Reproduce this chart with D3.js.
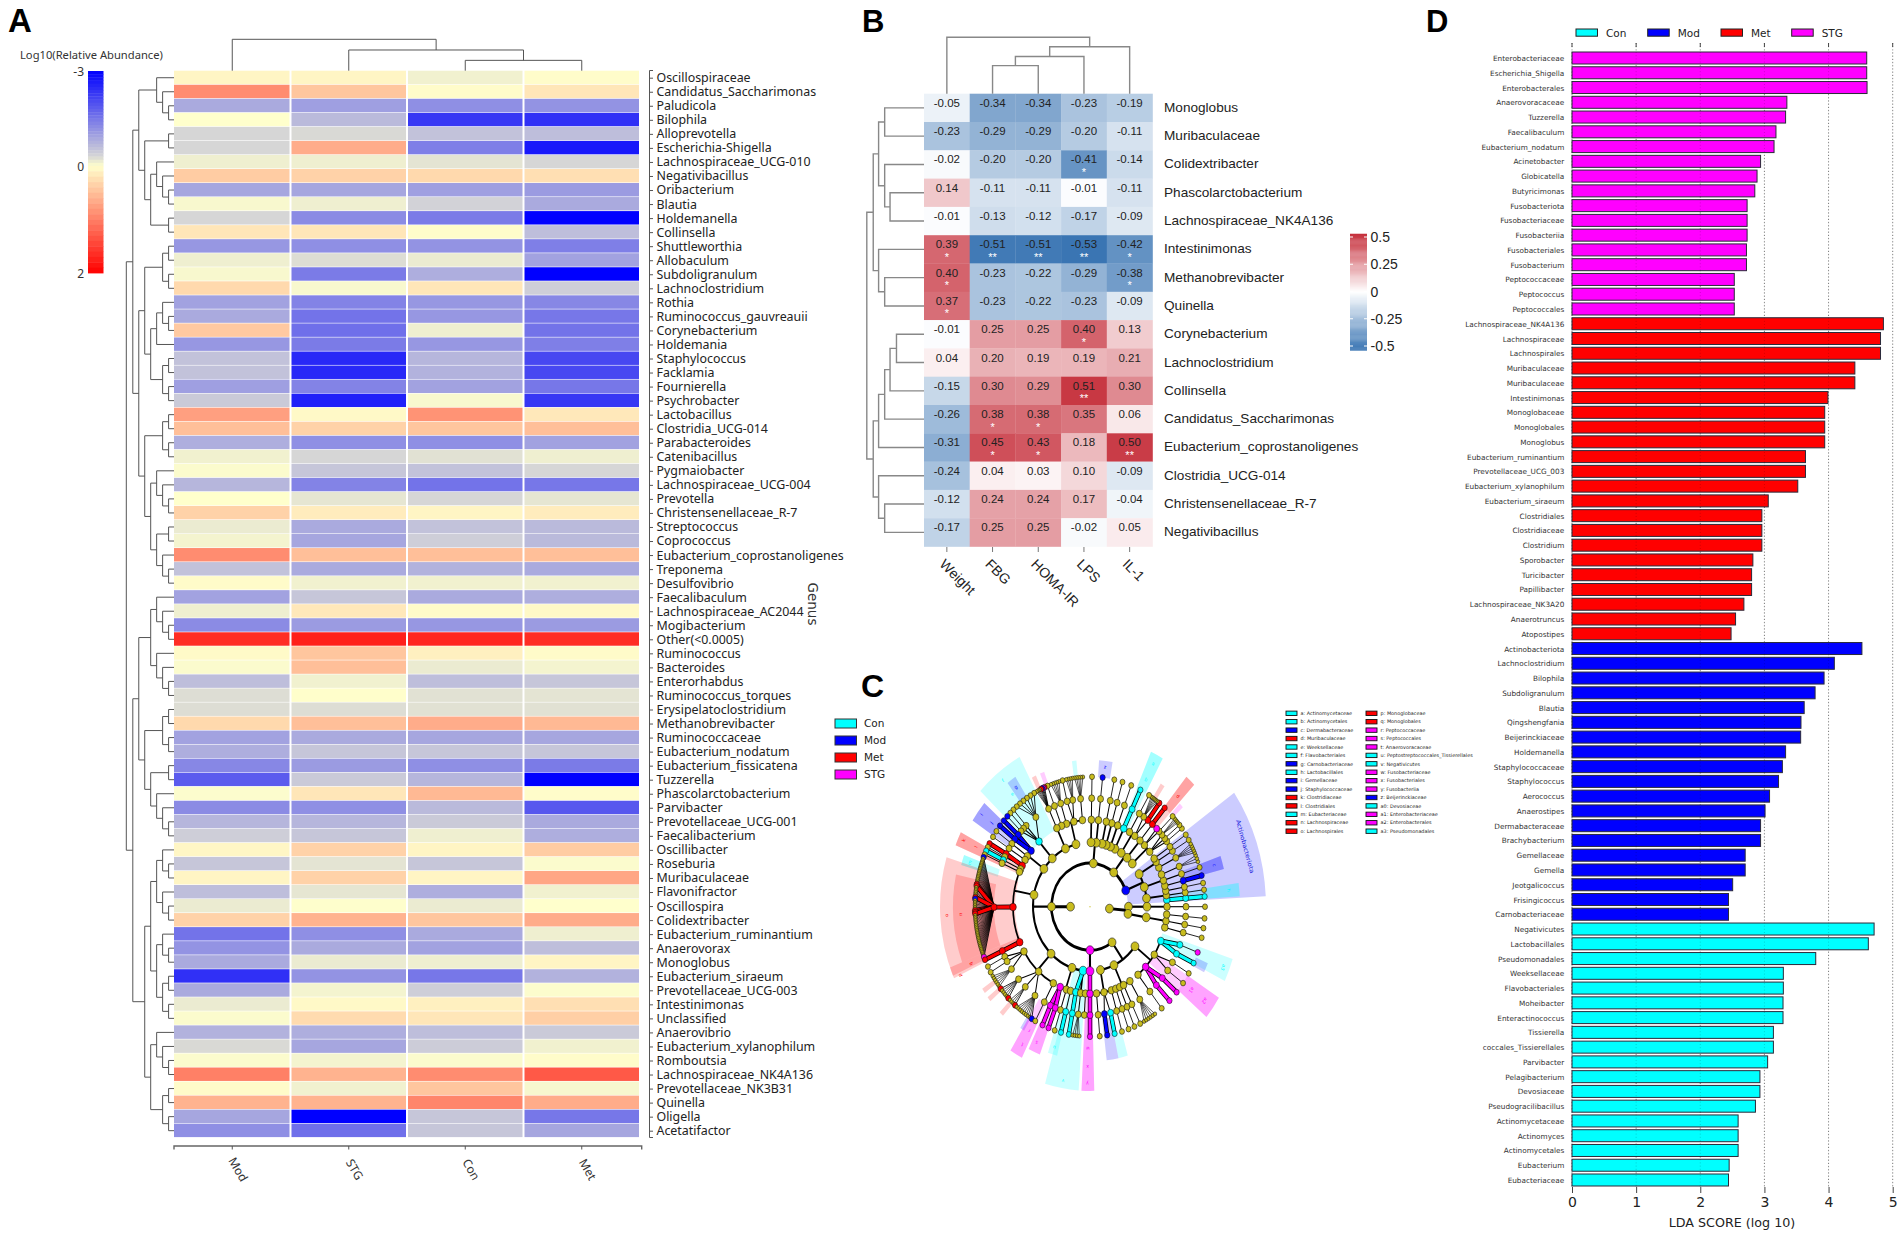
<!DOCTYPE html>
<html><head><meta charset="utf-8">
<script src="https://cdn.jsdelivr.net/npm/d3@7/dist/d3.min.js"></script>
<style>html,body{margin:0;background:#fff}svg{display:block}text{fill:#222}</style>
</head><body><svg id="c" width="1902" height="1235"></svg>
<script>
// ---------- Panel A data ----------
const aGroups=["Mod","STG","Con","Met"];
const aGenera=["Oscillospiraceae","Candidatus_Saccharimonas","Paludicola","Bilophila","Alloprevotella","Escherichia-Shigella","Lachnospiraceae_UCG-010","Negativibacillus","Oribacterium","Blautia","Holdemanella","Collinsella","Shuttleworthia","Allobaculum","Subdoligranulum","Lachnoclostridium","Rothia","Ruminococcus_gauvreauii","Corynebacterium","Holdemania","Staphylococcus","Facklamia","Fournierella","Psychrobacter","Lactobacillus","Clostridia_UCG-014","Parabacteroides","Catenibacillus","Pygmaiobacter","Lachnospiraceae_UCG-004","Prevotella","Christensenellaceae_R-7","Streptococcus","Coprococcus","Eubacterium_coprostanoligenes","Treponema","Desulfovibrio","Faecalibaculum","Lachnospiraceae_AC2044","Mogibacterium","Other(<0.0005)","Ruminococcus","Bacteroides","Enterorhabdus","Ruminococcus_torques","Erysipelatoclostridium","Methanobrevibacter","Ruminococcaceae","Eubacterium_nodatum","Eubacterium_fissicatena","Tuzzerella","Phascolarctobacterium","Parvibacter","Prevotellaceae_UCG-001","Faecalibacterium","Oscillibacter","Roseburia","Muribaculaceae","Flavonifractor","Oscillospira","Colidextribacter","Eubacterium_ruminantium","Anaerovorax","Monoglobus","Eubacterium_siraeum","Prevotellaceae_UCG-003","Intestinimonas","Unclassified","Anaerovibrio","Eubacterium_xylanophilum","Romboutsia","Lachnospiraceae_NK4A136","Prevotellaceae_NK3B31","Quinella","Oligella","Acetatifactor"];
const aValues=[[.08,.08,-.1,.02],[.9,.45,.02,.2],[-.85,-1,-1.2,-1.15],[0,-.65,-2.3,-2.4],[-.3,-.28,-.55,-.6],[-.3,.65,-1.4,-2.7],[-.12,-.12,-.2,-.3],[.4,.35,.3,.25],[-.9,-.9,-1,-1.05],[-.05,-.12,-.35,-.85],[-.3,-1.25,-1.45,-3],[.2,.2,.02,-.6],[-1.1,-1.2,-1.15,-1.4],[-.12,-.25,-.15,-.95],[-.05,-1.45,-.8,-3],[.3,-.05,.2,-.4],[-.95,-1.35,-1.1,-1.3],[-.85,-1.55,-1.1,-1.5],[.42,-1.6,-.12,-1.55],[-1.1,-1.45,-1.1,-1.4],[-.55,-2.5,-.7,-2.1],[-.55,-2.5,-.75,-2.1],[-1,-1.35,-.95,-1.5],[-.45,-2.6,-.05,-2.3],[.75,.05,.85,.18],[.5,.35,.45,.5],[-.8,-1.2,-1.2,-.95],[-.1,-.3,-.22,-.12],[-.03,-.5,-.55,-.3],[-.7,-1.35,-1.55,-1.5],[0,-.18,-.3,-.18],[.35,.15,.08,.15],[-.15,-.85,-.55,-.65],[-.08,-.9,-.4,-.65],[.9,.5,.5,.5],[-.55,-.85,-.75,-.85],[.03,-.1,-.1,-.1],[-.95,-.5,-.85,-.8],[-.12,.18,.03,.05],[-1.25,-1.05,-1.1,-1.05],[1.65,1.75,1.7,1.65],[.04,.45,.12,.03],[-.03,.5,-.15,-.08],[-.6,-.1,-.6,-.5],[-.25,.01,-.22,-.2],[-.25,-.25,-.22,-.22],[.3,.5,.65,.55],[-.95,-.85,-.9,-.9],[-.8,-.5,-.5,-.5],[-1.3,-1.05,-1.2,-1.45],[-1.85,-.45,-.7,-3],[-.02,.2,.55,.02],[-1.25,-1.2,-.65,-1.9],[-.7,-.7,-.45,-.85],[-.4,-.5,-.12,-.8],[.07,.35,.08,.4],[-.5,-.2,-.5,-.03],[.08,.35,.08,.7],[-.6,-.18,-.8,-.1],[-.15,-.01,-.15,0],[.35,.6,.45,.65],[-1.55,-1.2,-.85,-.12],[-1.15,-.85,-.95,-.6],[-.85,-.15,-.12,.08],[-2.4,-1.15,-1.5,-.75],[-.85,-.08,-.4,-.02],[-.15,.05,.12,.25],[-.03,.28,.2,.38],[-.75,-.8,-.6,-.45],[-.28,-.9,-.42,-.1],[-.03,-.08,-.03,.02],[1,.6,.9,1.3],[.03,-.1,.45,-.06],[.6,.6,.95,.65],[-.9,-3,-.5,-1.5],[-1.2,-1.6,-.5,-.9]];
const aLegendTicks=[-3,0,2];
// merge heights [h,left,right]; 0 is a leaf, read top to bottom
const aRowTree=[88,
 [76,[65,[32,0,[21,0,[10,0,0]]],[54,[10,0,0],[43,[32,0,[21,0,[10,0,0]]],[10,0,0]]]],
     [65,[54,[21,[10,0,0],[10,0,0]],[43,[32,[21,0,[10,0,0]],0],[21,[10,0,0],[10,0,0]]]],
         [54,[21,[10,0,0],[10,0,0]],[43,[32,0,[21,0,[10,0,0]]],[32,[10,0,0],[21,0,[10,0,0]]]]]]],
 [76,[65,[43,[32,0,[21,0,[10,0,0]]],[32,0,[21,0,[10,0,0]]]],[54,[21,[10,0,0],[10,0,0]],[43,[10,0,0],[32,0,[21,0,[10,0,0]]]]]],
     [54,[43,[32,[21,0,[10,0,0]],[21,0,[10,0,0]]],[32,[21,0,[10,0,0]],[21,[10,0,0],[10,0,0]]]],[43,[32,0,[21,0,[10,0,0]]],[21,[10,0,0],[10,0,0]]]]]];
const aColTree=[94,0,[62,0,[31,0,0]]];

// ---------- Panel B data ----------
const bCols=["Weight","FBG","HOMA-IR","LPS","IL-1"];
const bRows=["Monoglobus","Muribaculaceae","Colidextribacter","Phascolarctobacterium","Lachnospiraceae_NK4A136","Intestinimonas","Methanobrevibacter","Quinella","Corynebacterium","Lachnoclostridium","Collinsella","Candidatus_Saccharimonas","Eubacterium_coprostanoligenes","Clostridia_UCG-014","Christensenellaceae_R-7","Negativibacillus"];
const bValues=[[-.05,-.34,-.34,-.23,-.19],[-.23,-.29,-.29,-.20,-.11],[-.02,-.20,-.20,-.41,-.14],[.14,-.11,-.11,-.01,-.11],[-.01,-.13,-.12,-.17,-.09],[.39,-.51,-.51,-.53,-.42],[.40,-.23,-.22,-.29,-.38],[.37,-.23,-.22,-.23,-.09],[-.01,.25,.25,.40,.13],[.04,.20,.19,.19,.21],[-.15,.30,.29,.51,.30],[-.26,.38,.38,.35,.06],[-.31,.45,.43,.18,.50],[-.24,.04,.03,.10,-.09],[-.12,.24,.24,.17,-.04],[-.17,.25,.25,-.02,.05]];
const bStars=[[0,0,0,0,0],[0,0,0,0,0],[0,0,0,1,0],[0,0,0,0,0],[0,0,0,0,0],[1,2,2,2,1],[1,0,0,0,1],[1,0,0,0,0],[0,0,0,1,0],[0,0,0,0,0],[0,0,0,2,0],[0,1,1,0,0],[0,1,1,0,2],[0,0,0,0,0],[0,0,0,0,0],[0,0,0,0,0]];
const bLegendTicks=[.5,.25,0,-.25,-.5];
const bRowTree=[160,[142,[127,[110,0,0],[110,0,[95,0,0]]],[127,0,[110,0,0]]],[142,[127,[110,[95,[77,0,0],0],0],0],[127,0,[110,0,0]]]];
const bColTree=[143,0,[119,[94,[71,0,0],0],0]];

// ---------- Panel C data ----------
// class spans [phylum, from deg, to deg, clade]; degrees counter-clockwise from east
// y plain, c Con, b Mod, r Met, m STG; a digit n is a fan of n plain leaves
const cPhyla={A0:["y","K2"],A1:["y","K2"],Act:["b","K1"],T1:["y","K1"],T2:["y","K1"],Fir:["y","K1"],Fus:["m","K1"],P2:["y","K1"]};
const cKingdomAngle={K1:180,K2:-5};
const cPhylumAngle={Fir:180,Fus:270,T2:85,P2:305,Act:22,T1:52};
const cSpans=[
["A0",0,0,"y(y(y(y)))"],
["A1",-16,-3,"y(y(y(y)),y(y(y)),y(y(y)))"],
["Act",3,12,"y(c(c(c)),y(y(y)),y(y(y)))"],
["Act",12,24,"y(y(b(b)),y(y(y)),y(y(3)))"],
["Act",24,35,"y(y(y(5)),y(y(y)),y(y(y)))"],
["T1",36,47,"y(y(y(y),y(y),y(4)),y(y(y),m))"],
["T1",47,52,"y(y(r(r)))"],
["T1",52,60,"y(y(r(r),y(6)),y(y(y)))"],
["T1",62,66,"y(c(c(c)))"],
["T2",69,69,"y(y(y(y)))"],["T2",73.6,73.6,"y(y(y(y)))"],["T2",77.8,77.8,"y(y(y(y)))"],["T2",83.7,83.7,"y(y(y(b)))"],["T2",89,89,"y(y(y(y)))"],
["Fir",93,113,"y(y(y(5)),y(y(4),y(y)),y(y(5)),y(y(y)))"],
["Fir",113,118,"y(y(y(r,m,b,r,4)))"],
["Fir",118,137,"y(c(y(y,y,y,y,y,y),y(y),y(y),y(b)))"],
["Fir",137,149,"y(b(b(b),b(b)),y(y(y)),y(y(y)))"],
["Fir",150,205,"y(r(r(r),y(y)),y(c(c)),y(y(y)),r(r(b,16,r,r,6,r,b,6,r,r,r,26,m)),r(r(r)))"],
["Fir",206,243,"y(y(y(y),y(y),y(6)),y(y(r,4,r),y(3,r),y(8,b)),y(y(y)))"],
["Fir",244,257,"y(m(m(m),m(m)),y(y(y)),y(c(c)))"],
["Fir",258,268,"c(c(c(c)),y(y(4)),y(y))"],
["Fus",270,270,"m(m(m(m)))"],
["P2",273,288,"y(y(y(y)),y(b(b),c(c)),y(y(y)))"],
["P2",288,305,"y(y(y(y)),y(y(y)),y(y(y)),y(y(6)))"],
["P2",306,342,"y(y(y(y)),m(m(m),m(m)),y(y(y),y(y)),c(c(c),c(m)))"]];
const cRing=[0,19.5,38.5,57,77,96,115];
// shaded clades: [group, from deg, to deg, inner radius, outer radius]
const cWedges=[
["b",3,35,38,176],["c",3.5,8,77,150],["c",3.5,8,115,150],["b",14,19,96,138],["b",14,19,115,138],
["c",118,137,76,150],["c",61,66,76,150],["c",61,66,115,150],["c",96,98,115,130],["c",334,342,76,150],["c",254,266,57,163],["c",252,256,96,136],["c",282,286,115,137],["c",160,164,96,134],["c",160,164,115,134],
["r",163,204,75,150],["r",168,201,96,137],["r",153,158,76,145],["r",153,158,96,145],["r",201,205,75,150],["r",46,50,96,150],["r",46,50,115,150],["r",55,57,115,130],["r",115,117,115,128],["r",214,216,115,130],["r",218,220,115,130],["r",226,228,115,130],
["b",80,86,115,130],["b",139,147,96,140],["b",139,147,115,140],["b",123,127,115,137],["b",277,282,100,137],["b",333,337,115,128],["b",237,239,115,128],
["m",267,271.5,38,163],["m",267,271.5,96,163],["m",320,328,76,152],["m",320,328,115,152],["m",238,243,96,150],["m",238,243,115,150],["m",244,249,96,140],["m",244,249,115,140],["m",111,113,115,128],["m",43.5,45.5,115,128]];
// wedge letters: [text, group, deg, radius]
const cWedgeText=[["o","r",183,142],["n","r",183,128],["p","r",205,142],["q","r",203,128],["k","r",155,138],["l","r",155,124],["m","c",162,125],["f","c",128,140],["e","c",128,125],["i","b",143,134],["j","b",143,122],["g","b",125,128],["a","c",63.5,140],["b","c",63.5,124],["d","r",48,130],["c","b",16.5,128],["z","b",83,123],["h","c",6,138],["a3","c",338,142],["a2","m",324,140],["a1","m",324,124],["y","m",269,155],["x","m",269,140],["w","m",269,124],["v","c",260,155],["u","c",254,128],["t","m",241,138],["s","m",246,130],["r","m",241,124]];
const cGroups=["Con","Mod","Met","STG"];
const cKeyLeft=[["a: Actinomycetaceae","c"],["b: Actinomycetales","c"],["c: Dermabacteraceae","b"],["d: Muribaculaceae","r"],["e: Weeksellaceae","c"],["f: Flavobacteriales","c"],["g: Carnobacteriaceae","b"],["h: Lactobacillales","c"],["i: Gemellaceae","b"],["j: Staphylococcaceae","b"],["k: Clostridiaceae","r"],["l: Clostridiales","r"],["m: Eubacteriaceae","c"],["n: Lachnospiraceae","r"],["o: Lachnospirales","r"]];
const cKeyRight=[["p: Monoglobaceae","r"],["q: Monoglobales","r"],["r: Peptococcaceae","m"],["s: Peptococcales","m"],["t: Anaerovoracaceae","m"],["u: Peptostreptococcales_Tissierellales","c"],["v: Negativicutes","c"],["w: Fusobacteriaceae","m"],["x: Fusobacteriales","m"],["y: Fusobacteriia","m"],["z: Beijerinckiaceae","b"],["a0: Devosiaceae","c"],["a1: Enterobacteriaceae","m"],["a2: Enterobacterales","m"],["a3: Pseudomonadales","c"]];

// ---------- Panel D data ----------
const dTaxa=["Enterobacteriaceae","Escherichia_Shigella","Enterobacterales","Anaerovoracaceae","Tuzzerella","Faecalibaculum","Eubacterium_nodatum","Acinetobacter","Globicatella","Butyricimonas","Fusobacteriota","Fusobacteriaceae","Fusobacteriia","Fusobacteriales","Fusobacterium","Peptococcaceae","Peptococcus","Peptococcales","Lachnospiraceae_NK4A136","Lachnospiraceae","Lachnospirales","Muribaculaceae","Muribaculaceae","Intestinimonas","Monoglobaceae","Monoglobales","Monoglobus","Eubacterium_ruminantium","Prevotellaceae_UCG_003","Eubacterium_xylanophilum","Eubacterium_siraeum","Clostridiales","Clostridiaceae","Clostridium","Sporobacter","Turicibacter","Papillibacter","Lachnospiraceae_NK3A20","Anaerotruncus","Atopostipes","Actinobacteriota","Lachnoclostridium","Bilophila","Subdoligranulum","Blautia","Qingshengfania","Beijerinckiaceae","Holdemanella","Staphylococcaceae","Staphylococcus","Aerococcus","Anaerostipes","Dermabacteraceae","Brachybacterium","Gemellaceae","Gemella","Jeotgalicoccus","Frisingicoccus","Carnobacteriaceae","Negativicutes","Lactobacillales","Pseudomonadales","Weeksellaceae","Flavobacteriales","Moheibacter","Enteractinococcus","Tissierella","coccales_Tissierellales","Parvibacter","Pelagibacterium","Devosiaceae","Pseudogracilibacillus","Actinomycetaceae","Actinomyces","Actinomycetales","Eubacterium","Eubacteriaceae"];
const dScores=[4.595,4.595,4.6,3.35,3.33,3.18,3.15,2.94,2.885,2.85,2.73,2.73,2.73,2.72,2.72,2.53,2.53,2.53,4.855,4.81,4.81,4.41,4.41,3.99,3.94,3.94,3.94,3.64,3.64,3.52,3.06,2.96,2.96,2.96,2.82,2.8,2.8,2.68,2.55,2.48,4.52,4.09,3.93,3.79,3.62,3.57,3.565,3.33,3.28,3.22,3.08,3.01,2.94,2.94,2.7,2.7,2.505,2.44,2.44,4.71,4.62,3.8,3.295,3.295,3.29,3.29,3.14,3.14,3.05,2.93,2.93,2.86,2.59,2.59,2.59,2.45,2.44];
const dGroupSizes=[["STG",18],["Met",22],["Mod",19],["Con",18]];
const dTicks=[0,1,2,3,4,5];

const groupColor={Con:"#00ffff",Mod:"#0000ff",Met:"#ff0000",STG:"#ff00ff",c:"#00ffff",b:"#0000ff",r:"#ff0000",m:"#ff00ff",y:"#c8bc1e"};
const svg=d3.select("#c");
const SANS="'Liberation Sans',Arial,sans-serif",DJ="'DejaVu Sans',sans-serif",NOTO="'Noto Sans',sans-serif";
function letter(t,x,y,s){svg.append("text").text(t).attr("x",x).attr("y",y).attr("font-family",SANS).attr("font-weight","bold").attr("font-size",s||32).style("fill","#000");}

// Draws a binary dendrogram. Leaves take positions from pos(i) in order; h maps merge height to pixels.
function dendro(g,tree,pos,h,vertical,stroke,width){
  let i=0;const p=d3.path();
  const pt=(a,b)=>vertical?[a,b]:[b,a]; // a position along leaves, b height axis
  function rec(n){
    if(!Array.isArray(n))return{a:pos(i++),b:h(0)};
    const l=rec(n[1]),r=rec(n[2]),b=h(n[0]);
    p.moveTo(...pt(l.a,l.b));p.lineTo(...pt(l.a,b));p.lineTo(...pt(r.a,b));p.lineTo(...pt(r.a,r.b));
    return{a:(l.a+r.a)/2,b};
  }
  rec(tree);
  g.append("path").attr("d",p.toString()).attr("fill","none").attr("stroke",stroke).attr("stroke-width",width);
}

// ========== A ==========
(function(){
  const g=svg.append("g");
  const x=d3.scaleBand().domain(aGroups).range([174,640]);
  const y=d3.scaleBand().domain(d3.range(aGenera.length)).range([70.7,1137.7]);
  const color=d3.scaleLinear().domain([-3,-.3,0,2]).range(["#0000ff","#d6d6d6","#ffffcc","#ff0000"]);
  aValues.forEach((row,i)=>row.forEach((v,j)=>{
    g.append("rect").attr("x",x(aGroups[j])+(j?1:0)).attr("y",y(i)).attr("width",x.bandwidth()-(j?2:1)).attr("height",y.bandwidth()-.6).attr("fill",color(v));
  }));
  const ax=d3.axisRight(d3.scalePoint().domain(aGenera).range([77.7,1130.7])).tickSize(3.5).tickPadding(3.5);
  const ag=g.append("g").attr("transform","translate(649.5,0)").call(ax);
  ag.select(".domain").attr("d","M3.5,70.5H0V1137.5H3.5").attr("stroke","#555");
  ag.selectAll("line").attr("stroke","#555");
  ag.selectAll("text").attr("font-family",NOTO).attr("font-size",12.4).style("fill","#222");
  const bx=d3.axisBottom(x).tickSize(3.5).tickFormat("");
  const bg=g.append("g").attr("transform","translate(0,1146)").call(bx);
  bg.select(".domain").attr("d","M174,3.5V0H641.7V3.5").attr("stroke","#666").attr("stroke-width",1.4);
  bg.selectAll("line").attr("stroke","#555");
  aGroups.forEach(d=>{g.append("text").text(d).attr("transform",`translate(${x(d)+x.bandwidth()/2+5},1170) rotate(60)`).attr("text-anchor","middle").attr("dominant-baseline","middle").attr("font-family",NOTO).attr("font-size",12).style("fill","#333");});
  g.append("text").text("Genus").attr("transform","translate(808,604) rotate(90)").attr("text-anchor","middle").attr("font-family",DJ).attr("font-size",13.5).style("fill","#333");
  dendro(g,aRowTree,k=>y(k)+y.bandwidth()/2,d3.scaleLinear().domain([0,88]).range([174,126.3]),false,"#555",1);
  dendro(g,aColTree,k=>x(aGroups[k])+x.bandwidth()/2,d3.scaleLinear().domain([0,94]).range([70.7,39.3]),true,"#555",1);
  // legend
  g.append("text").text("Log10(Relative Abundance)").attr("x",20).attr("y",59).attr("font-family",NOTO).attr("font-size",11.2).style("fill","#333");
  const ly=d3.scaleLinear().domain([-3,0,2]).range([71,166,273]);
  const steps=d3.range(-3,2,.1);
  steps.forEach(v=>{g.append("rect").attr("x",88).attr("width",15.5).attr("y",ly(v)).attr("height",ly(v+.1)-ly(v)+.4).attr("fill",color(v+.05));});
  aLegendTicks.forEach(t=>{g.append("text").text(t).attr("x",84).attr("y",ly(t)+4.5).attr("text-anchor","end").attr("font-family",NOTO).attr("font-size",12).style("fill","#333");});
  letter("A",8,32,33);
})();

// ========== B ==========
(function(){
  const g=svg.append("g");
  const x=d3.scaleBand().domain(bCols).range([924,1152.5]);
  const y=d3.scaleBand().domain(bRows).range([93.7,546.5]);
  const color=d3.scaleLinear().domain([-.53,0,.53]).range(["#3a75b3","#ffffff","#c6303c"]);
  bValues.forEach((row,i)=>row.forEach((v,j)=>{
    g.append("rect").attr("x",x(bCols[j])).attr("y",y(bRows[i])).attr("width",x.bandwidth()+.3).attr("height",y.bandwidth()+.3).attr("fill",color(v));
    const cx=x(bCols[j])+x.bandwidth()/2,cy=y(bRows[i])+y.bandwidth()/2;
    g.append("text").text(v.toFixed(2)).attr("x",cx).attr("y",cy-1).attr("text-anchor","middle").attr("font-family",SANS).attr("font-size",11.5).style("fill","#222");
    if(bStars[i][j])g.append("text").text("*".repeat(bStars[i][j])).attr("x",cx).attr("y",cy+11.5).attr("text-anchor","middle").attr("font-family",SANS).attr("font-size",11).style("fill","#fff");
  }));
  bRows.forEach(d=>{g.append("text").text(d).attr("x",1164).attr("y",y(d)+y.bandwidth()/2+4).attr("font-family",SANS).attr("font-size",13.6).style("fill","#222");});
  bCols.forEach(d=>{const cx=x(d)+x.bandwidth()/2;
    g.append("line").attr("x1",cx).attr("x2",cx).attr("y1",547).attr("y2",552).attr("stroke","#777");
    g.append("text").text(d).attr("transform",`translate(${cx-8},565) rotate(45)`).attr("font-family",SANS).attr("font-size",14).style("fill","#222");});
  dendro(g,bRowTree,k=>y(bRows[k])+y.bandwidth()/2,d3.scaleLinear().domain([0,207]).range([924,850]),false,"#888",1.4);
  dendro(g,bColTree,k=>x(bCols[k])+x.bandwidth()/2,d3.scaleLinear().domain([0,143]).range([93.7,37.2]),true,"#888",1.4);
  const ly=d3.scaleLinear().domain([.5,-.5]).range([237,346]);
  d3.range(.53,-.54,-.01).forEach(v=>{g.append("rect").attr("x",1350).attr("width",17).attr("y",ly(v)).attr("height",ly(v-.01)-ly(v)+.3).attr("fill",color(v));});
  bLegendTicks.forEach(t=>{
    g.append("line").attr("x1",1350).attr("x2",1353).attr("y1",ly(t)).attr("y2",ly(t)).attr("stroke","#fff");
    g.append("line").attr("x1",1364).attr("x2",1367).attr("y1",ly(t)).attr("y2",ly(t)).attr("stroke","#fff");
    g.append("text").text(t).attr("x",1370.5).attr("y",ly(t)+5).attr("font-family",SANS).attr("font-size",14).style("fill","#222");});
  letter("B",862,32,31);
})();

// ========== C ==========
(function(){
  cGroups.forEach((d,i)=>{
    svg.append("rect").attr("x",835).attr("y",719+i*17).attr("width",21.5).attr("height",9).attr("fill",groupColor[d]).attr("stroke","#333").attr("stroke-width",1);
    svg.append("text").text(d).attr("x",864).attr("y",727+i*17).attr("font-family",DJ).attr("font-size",10.5).style("fill","#222");});
  [[cKeyLeft,1286],[cKeyRight,1366]].forEach(([list,kx])=>{
    list.forEach(([t,c],i)=>{
      const ky=713.3+i*8.42;
      svg.append("rect").attr("x",kx).attr("y",ky-2.2).attr("width",11).attr("height",4.4).attr("fill",groupColor[c]).attr("stroke","#111").attr("stroke-width",.9);
      svg.append("text").text(t).attr("x",kx+14.6).attr("y",ky+1.7).attr("font-family",DJ).attr("font-size",4.9).style("fill","#222");});});
  letter("C",861,697,32);

  const g=svg.append("g").attr("transform","translate(1090,906.7) scale(1,1.13)");
  const rad=Math.PI/180,pol=(r,t)=>[r*Math.cos(t*rad),-r*Math.sin(t*rad)];
  const wedge=d3.arc();
  cWedges.forEach(([c,a0,a1,r0,r1])=>{
    g.append("path").attr("d",wedge({innerRadius:r0,outerRadius:r1,startAngle:(90-a1)*rad,endAngle:(90-a0)*rad})).attr("fill",groupColor[c]).attr("fill-opacity",.2);});
  cWedgeText.forEach(([t,c,a,r])=>{const [px,py]=pol(r,a);
    g.append("text").text(t).attr("transform",`translate(${px},${py}) rotate(${90-a})`).attr("text-anchor","middle").attr("font-family",DJ).attr("font-size",4.5).style("fill",groupColor[c]);});
  {const [px,py]=pol(162,19);g.append("text").text("Actinobacteriota").attr("transform",`translate(${px},${py}) rotate(73)`).attr("text-anchor","middle").attr("font-family",DJ).attr("font-size",6).style("fill","#2222dd");}

  function parse(s){let i=0;
    function nodes(){const out=[];
      while(i<s.length){
        const ch=s[i];
        if(/\d/.test(ch)){let n="";while(/\d/.test(s[i]))n+=s[i++];d3.range(+n).forEach(()=>out.push({g:"y",fan:true}));}
        else if(/[a-z]/.test(ch)){i++;const o={g:ch};if(s[i]==="("){i++;o.children=nodes();i++;}out.push(o);}
        if(s[i]===","){i++;continue;}
        break;}
      return out;}
    return nodes()[0];}
  const kids={K1:{g:"y",name:"K1",children:[]},K2:{g:"y",name:"K2",children:[]}};
  const phy={};
  Object.keys(cPhyla).forEach(k=>{phy[k]={g:cPhyla[k][0],name:k,children:[]};kids[cPhyla[k][1]].children.push(phy[k]);});
  cSpans.forEach(([p,a0,a1,s])=>{const n=parse(s);n.span=[a0,a1];phy[p].children.push(n);});
  const root=d3.hierarchy({g:"y",name:"root",children:[kids.K1,kids.K2]});
  // angles: leaf weights fill each class span, parents sit at the mean of their children
  root.descendants().filter(d=>d.data.span).forEach(cl=>{
    const leaves=cl.leaves();
    const w=l=>(l.data.fan||(l.parent&&l.parent.children.some(c=>c.data.fan)))?.4:1;
    const total=d3.sum(leaves,w);let acc=0;
    leaves.forEach(l=>{const wi=w(l);l.angle=cl.data.span[0]+(acc+wi/2)/total*(cl.data.span[1]-cl.data.span[0]);acc+=wi;});
    cl.eachAfter(n=>{if(n.children)n.angle=d3.mean(n.children,c=>c.angle);});
  });
  root.eachAfter(n=>{if(n.angle==null&&n.children)n.angle=d3.mean(n.children,c=>c.angle);
    const nm=n.data.name;
    if(nm&&cKingdomAngle[nm]!=null)n.angle=cKingdomAngle[nm];
    if(nm&&cPhylumAngle[nm]!=null)n.angle=cPhylumAngle[nm];});
  root.angle=180;
  const widths=[0,2.6,2.6,2,1.7,1,.8];
  const edge=g.append("g").attr("fill","none").attr("stroke","#000"),hi=g.append("g").attr("fill","none");
  root.descendants().forEach(p=>{
    if(!p.children||p.depth===0)return;
    const rp=cRing[p.depth],rc=cRing[p.depth+1],w=widths[p.depth+1];
    if(p.depth<=3){
      const a=d3.extent(p.children.map(c=>c.angle).concat([p.angle]));
      const q=d3.path();q.moveTo(...pol(rp,p.angle));q.lineTo(...pol(rc,p.angle));
      q.moveTo(...pol(rc,a[1]));q.arc(0,0,rc,-a[1]*rad,-a[0]*rad,false);
      edge.append("path").attr("d",q.toString()).attr("stroke-width",w);
    }
    p.children.forEach(c=>{
      const fan=c.data.fan;
      if(p.depth>3){const [x1,y1]=pol(rp,p.angle),[x2,y2]=pol(rc,c.angle);
        edge.append("line").attr("x1",x1).attr("y1",y1).attr("x2",x2).attr("y2",y2).attr("stroke-width",fan?.6:w);}
      if(p.depth>=3&&c.data.g!=="y"&&c.data.g===p.data.g){
        const [x1,y1]=pol(rp,p.angle),[x2,y2]=pol(rc,c.angle);
        [[4.4,"#000"],[3,groupColor[c.data.g]]].forEach(([sw,col])=>hi.append("line").attr("x1",x1).attr("y1",y1).attr("x2",x2).attr("y2",y2).attr("stroke",col).attr("stroke-width",sw));
      }
    });
  });
  const sizes=[.6,3.9,3.9,3.9,3.3,3,2.5];
  g.append("g").selectAll("circle").data(root.descendants()).join("circle")
   .attr("cx",d=>pol(cRing[d.depth],d.angle)[0]).attr("cy",d=>pol(cRing[d.depth],d.angle)[1])
   .attr("r",d=>d.data.fan?1.8:(d.data.g!=="y"?Math.max(sizes[d.depth],2.6):sizes[d.depth]))
   .attr("fill",d=>groupColor[d.data.g]).attr("stroke","#111").attr("stroke-width",d=>d.depth?.55:0);
})();

// ========== D ==========
(function(){
  const g=svg.append("g");
  const x=d3.scaleLinear().domain([0,5]).range([1572,1892.7]);
  const y=d3.scalePoint().domain(d3.range(dTaxa.length)).range([58,1180]);
  const groups=dGroupSizes.flatMap(([n,k])=>d3.range(k).map(()=>n));
  dTicks.forEach(t=>{g.append("line").attr("x1",x(t)).attr("x2",x(t)).attr("y1",43).attr("y2",1187).attr("stroke","#666").attr("stroke-width",.8).attr("stroke-dasharray","1 2.2");});
  dTaxa.forEach((d,i)=>{
    g.append("rect").attr("x",x(0)).attr("y",y(i)-6).attr("width",x(dScores[i])-x(0)).attr("height",12).attr("fill",groupColor[groups[i]]).attr("stroke","#2a2a3a").attr("stroke-width",1);
    g.append("text").text(d).attr("x",1564.3).attr("y",y(i)+3).attr("text-anchor","end").attr("font-family",DJ).attr("font-size",7.3).style("fill","#333");
  });
  dTicks.forEach(t=>{g.append("line").attr("x1",x(t)).attr("x2",x(t)).attr("y1",52).attr("y2",1187).attr("stroke","#000").attr("stroke-opacity",.22).attr("stroke-width",.8).attr("stroke-dasharray","1 2.2");
    g.append("line").attr("x1",x(t)).attr("x2",x(t)).attr("y1",43).attr("y2",47).attr("stroke","#444");});
  const ax=d3.axisBottom(x).tickValues(dTicks).tickSize(6).tickPadding(4).tickFormat(d3.format("d"));
  const ag=g.append("g").attr("transform","translate(0,1187)").call(ax);
  ag.select(".domain").remove();ag.selectAll("line").attr("stroke","#444");
  ag.selectAll("text").attr("font-family",DJ).attr("font-size",14).style("fill","#222");
  g.append("text").text("LDA SCORE (log 10)").attr("x",1732).attr("y",1227).attr("text-anchor","middle").attr("font-family",DJ).attr("font-size",12.7).style("fill","#222");
  const lx={Con:1576,Mod:1647.7,Met:1721,STG:1791.7};
  cGroups.forEach(d=>{
    g.append("rect").attr("x",lx[d]).attr("y",29).attr("width",21.5).attr("height",7.2).attr("fill",groupColor[d]).attr("stroke","#222").attr("stroke-width",1);
    g.append("text").text(d).attr("x",lx[d]+30).attr("y",36.5).attr("font-family",DJ).attr("font-size",10.5).style("fill","#222");});
  letter("D",1426,32,31);
})();
</script></body></html>
